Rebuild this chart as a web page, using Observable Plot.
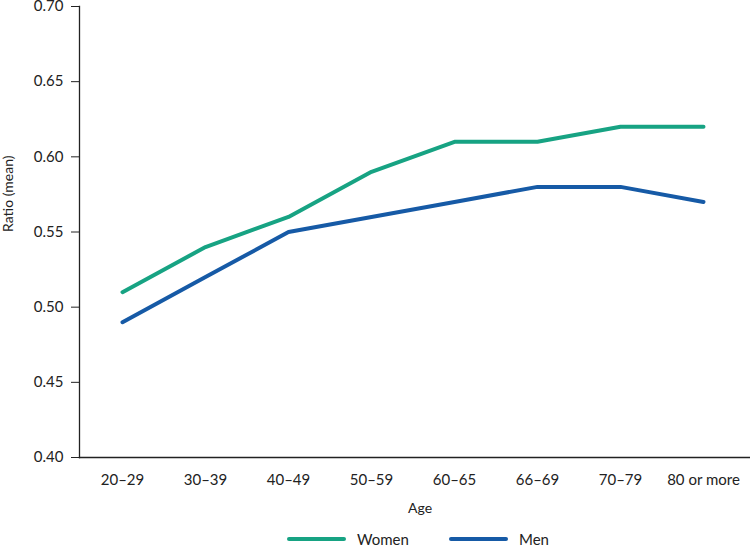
<!DOCTYPE html>
<html>
<head>
<meta charset="utf-8">
<script src="https://cdn.jsdelivr.net/npm/d3@7"></script>
<script src="https://cdn.jsdelivr.net/npm/@observablehq/plot@0.6"></script>
<style>
  body { margin: 0; background: #fff; font-family: Lato, "Open Sans", sans-serif; color: #222; }
  #legend { position: relative; height: 17px; font-size: 15px; }
  .item { position: absolute; top: 0; display: flex; align-items: center; height: 17px; }
  .swatch { width: 59px; height: 4px; border-radius: 2px; margin-right: 11px; }
</style>
</head>
<body>
<div id="chart"></div>
<div id="legend"></div>
<script>
const ages = ["20–29", "30–39", "40–49", "50–59", "60–65", "66–69", "70–79", "80 or more"];
const women = [0.51, 0.54, 0.56, 0.59, 0.61, 0.61, 0.62, 0.62];
const men = [0.49, 0.52, 0.55, 0.56, 0.57, 0.58, 0.58, 0.57];
const yTicks = [0.40, 0.45, 0.50, 0.55, 0.60, 0.65, 0.70];
const seriesNames = ["Women", "Men"];
const seriesColors = ["#17a383", "#165aa6"];

const rows = [];
ages.forEach((a, i) => {
  rows.push({age: a, value: women[i], sex: "Women"});
  rows.push({age: a, value: men[i], sex: "Men"});
});

const chart = Plot.plot({
  width: 750,
  height: 530,
  marginTop: 6,
  marginBottom: 73,
  marginLeft: 79,
  marginRight: 0,
  style: {fontFamily: "Lato, 'Open Sans', sans-serif", fontSize: "15px", color: "#222", background: "#fff"},
  x: {type: "point", domain: ages, range: [122, 703], padding: 0, align: 0.5, label: null},
  y: {domain: [0.4, 0.7], label: null},
  color: {domain: seriesNames, range: seriesColors},
  marks: [
    Plot.axisY({ticks: yTicks, tickFormat: d3.format(".2f"), tickSize: 8, tickPadding: 8, label: null, fontSize: 15}),
    Plot.axisX({tickSize: 0, tickPadding: 17, label: null, fontSize: 15}),
    Plot.frame({anchor: "left", stroke: "#222", strokeWidth: 1.3}),
    Plot.frame({anchor: "bottom", stroke: "#222", strokeWidth: 1.3}),
    Plot.line(rows, {x: "age", y: "value", z: "sex", stroke: "sex", strokeWidth: 4, strokeLinejoin: "round", strokeLinecap: "round"}),
    Plot.text(["Age"], {frameAnchor: "bottom", dy: 55, dx: 5, text: d => d, fontSize: 14}),
    Plot.text(["Ratio (mean)"], {frameAnchor: "left", dx: -71, rotate: -90, text: d => d, fontSize: 14})
  ]
});
document.getElementById("chart").appendChild(chart);

const legend = document.getElementById("legend");
const lefts = [287, 449];
seriesNames.forEach((name, i) => {
  const it = document.createElement("div");
  it.className = "item";
  it.style.left = lefts[i] + "px";
  const sw = document.createElement("div");
  sw.className = "swatch";
  sw.style.background = seriesColors[i];
  const t = document.createElement("span");
  t.textContent = name;
  it.appendChild(sw);
  it.appendChild(t);
  legend.appendChild(it);
});
</script>
</body>
</html>
